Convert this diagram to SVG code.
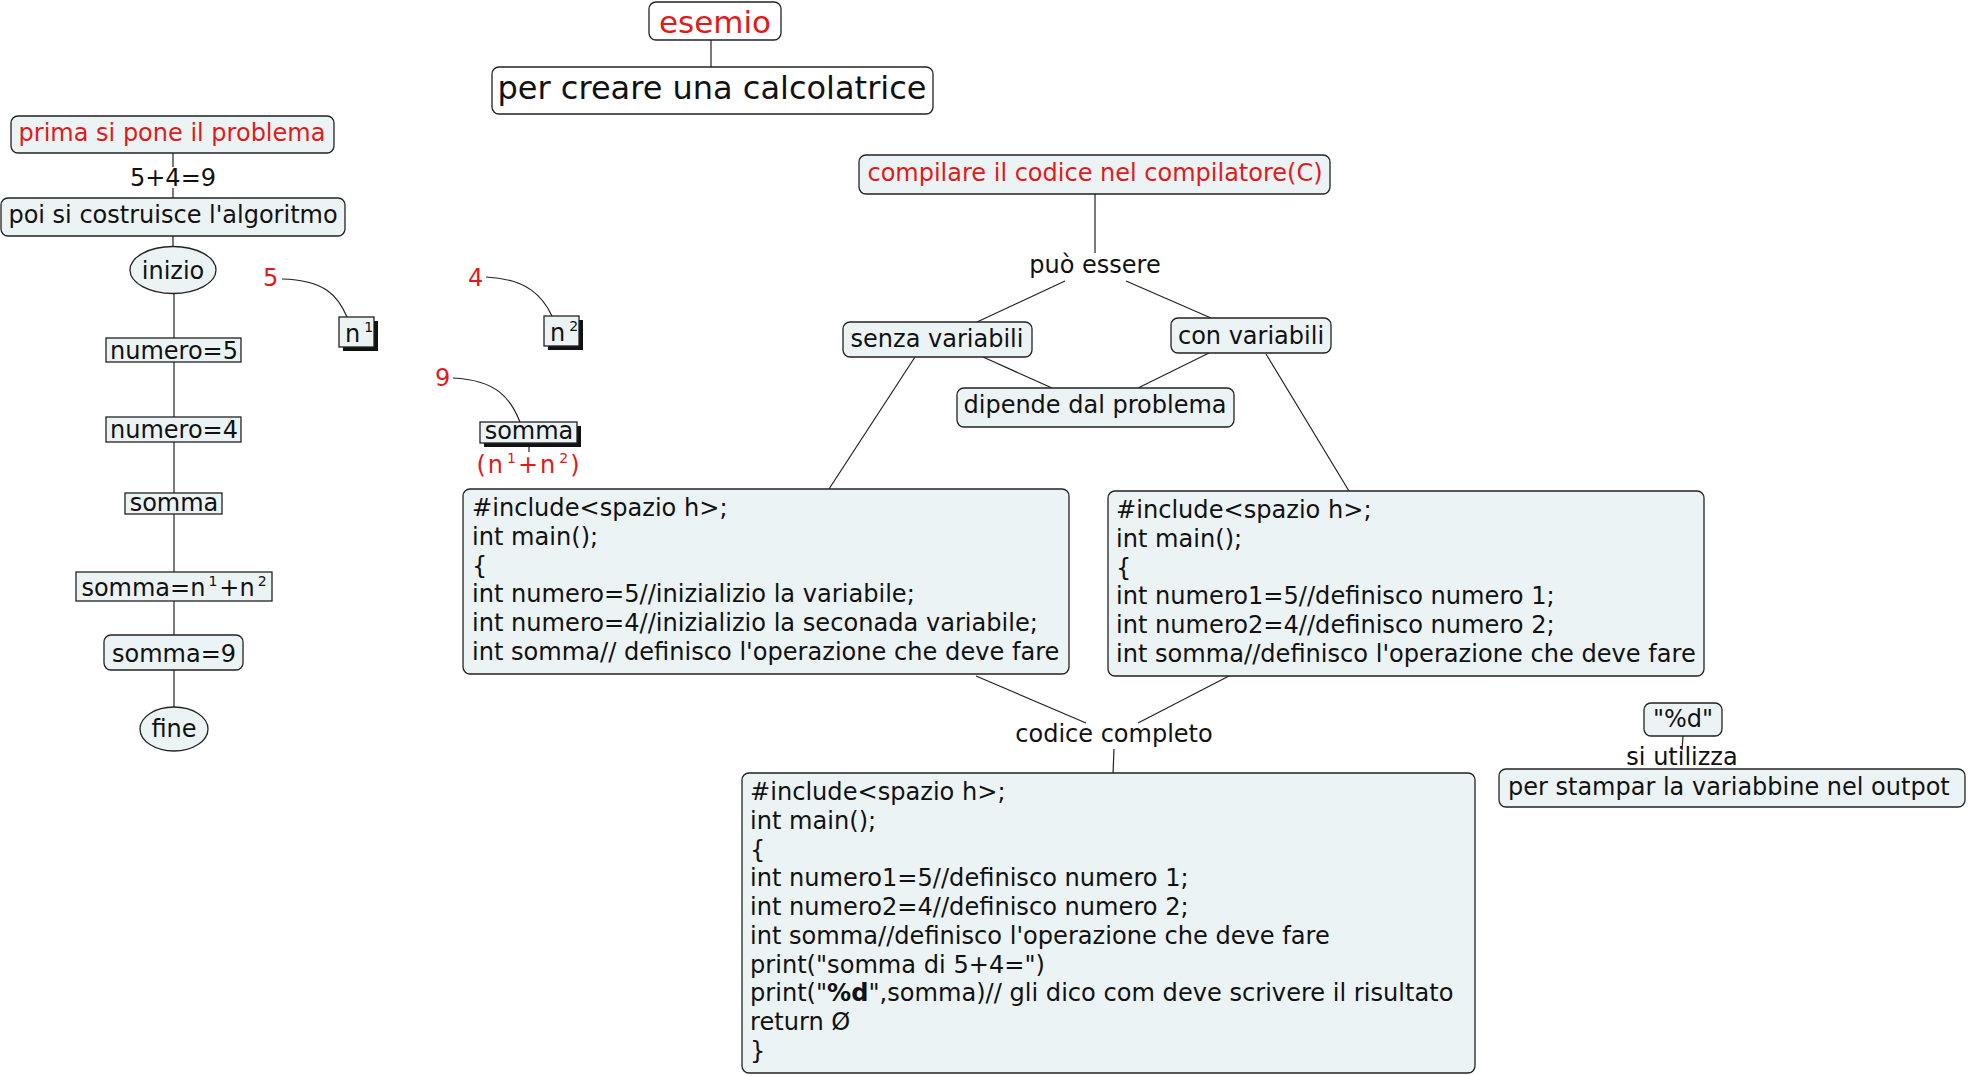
<svg xmlns="http://www.w3.org/2000/svg" width="1969" height="1076" viewBox="0 0 1969 1076">
<style>
text{font-family:"DejaVu Sans",Verdana,sans-serif;font-size:24px;fill:#111}
.c{text-anchor:middle}
.red{fill:#E11A1A}
.box{fill:#ECF3F5;stroke:#222;stroke-width:1.3}
.wbox{fill:#FFFFFF;stroke:#222;stroke-width:1.3}
.sh{fill:#111}
.ln{fill:none;stroke:#222;stroke-width:1.2}
.sup{font-size:14px}
.code text{font-size:24.1px}
</style>
<rect width="1969" height="1076" fill="#FFFFFF"/>
<g id="connectors">
<line class="ln" x1="711" y1="40" x2="711" y2="67"/>
<line class="ln" x1="173" y1="153" x2="173" y2="167"/>
<line class="ln" x1="173" y1="188" x2="173" y2="198"/>
<line class="ln" x1="173" y1="236" x2="173" y2="247"/>
<line class="ln" x1="174" y1="294" x2="174" y2="338"/>
<line class="ln" x1="174" y1="362" x2="174" y2="417"/>
<line class="ln" x1="174" y1="442" x2="174" y2="493"/>
<line class="ln" x1="174" y1="514" x2="174" y2="572"/>
<line class="ln" x1="174" y1="601" x2="174" y2="635"/>
<line class="ln" x1="174" y1="670" x2="174" y2="707"/>
<path class="ln" d="M282,279 C325,280 338,296 347,317"/>
<path class="ln" d="M486,277 C528,279 543,297 552,316"/>
<path class="ln" d="M453,378 C497,380 511,399 520,422"/>
<line class="ln" x1="529" y1="443" x2="529" y2="452"/>
<line class="ln" x1="1095" y1="194" x2="1095" y2="253"/>
<line class="ln" x1="1065" y1="281" x2="977" y2="322"/>
<line class="ln" x1="1126" y1="281" x2="1211" y2="318"/>
<line class="ln" x1="983" y1="357" x2="1052" y2="388"/>
<line class="ln" x1="1209" y1="353" x2="1138" y2="388"/>
<line class="ln" x1="915" y1="357" x2="829" y2="489"/>
<line class="ln" x1="1266" y1="354" x2="1349" y2="491"/>
<line class="ln" x1="976" y1="676" x2="1086" y2="723"/>
<line class="ln" x1="1229" y1="676" x2="1138" y2="723"/>
<line class="ln" x1="1114" y1="749" x2="1113" y2="774"/>
<line class="ln" x1="1683" y1="736" x2="1682" y2="750"/>
</g>
<g id="esemio"><rect class="wbox" x="649" y="2" width="132" height="38" rx="7"/><text class="c red" x="715" y="33" style="font-size:31px">esemio</text></g>
<g id="calcolatrice"><rect class="wbox" x="492" y="67" width="441" height="47" rx="7"/><text class="c" x="712" y="99" style="font-size:32px">per creare una calcolatrice</text></g>
<g id="prima"><rect class="box" x="11" y="116" width="323" height="37" rx="7"/><text class="c red" x="172" y="141">prima si pone il problema</text></g>
<g id="lbl-5p4"><text class="c" x="173" y="186">5+4=9</text></g>
<g id="algoritmo"><rect class="box" x="1" y="198" width="344" height="38" rx="7"/><text class="c" x="173" y="223">poi si costruisce l'algoritmo</text></g>
<g id="inizio"><ellipse class="box" cx="173" cy="270" rx="43" ry="23.5"/><text class="c" x="173" y="279">inizio</text></g>
<g id="numero5"><rect class="box" x="106" y="338" width="135" height="24"/><text class="c" x="174" y="359">numero=5</text></g>
<g id="numero4"><rect class="box" x="106" y="417" width="135" height="25"/><text class="c" x="174" y="438">numero=4</text></g>
<g id="somma-l"><rect class="box" x="125" y="493" width="97" height="21"/><text class="c" x="174" y="511">somma</text></g>
<g id="sommaeq"><rect class="box" x="76" y="572" width="196" height="29"/><text class="c" x="174" y="596">somma=n<tspan class="sup" dx="3" dy="-10">1</tspan><tspan dx="2" dy="10">+n</tspan><tspan class="sup" dx="3" dy="-10">2</tspan></text></g>
<g id="somma9"><rect class="box" x="104" y="635" width="139" height="35" rx="7"/><text class="c" x="174" y="662">somma=9</text></g>
<g id="fine"><ellipse class="box" cx="174" cy="729" rx="34" ry="22"/><text class="c" x="174" y="737">fine</text></g>
<g id="v5"><text class="red" x="263" y="286">5</text></g>
<g id="v4"><text class="red" x="468" y="286">4</text></g>
<g id="v9"><text class="red" x="435" y="386">9</text></g>
<g id="n1"><rect class="sh" x="343" y="321" width="35" height="30"/><rect class="box" x="339" y="317" width="35" height="30"/><text x="345" y="342">n<tspan class="sup" dx="4" dy="-10">1</tspan></text></g>
<g id="n2"><rect class="sh" x="548" y="320" width="35" height="30"/><rect class="box" x="544" y="316" width="35" height="30"/><text x="550" y="341">n<tspan class="sup" dx="4" dy="-10">2</tspan></text></g>
<g id="somma-r"><rect class="sh" x="484" y="426" width="97" height="21"/><rect class="box" x="480" y="422" width="97" height="21"/><text class="c" x="529" y="439">somma</text></g>
<g id="lbl-n1n2"><text class="c red" x="529" y="473" style="letter-spacing:2px">(n<tspan class="sup" dx="2" dy="-10">1</tspan><tspan dy="10">+n</tspan><tspan class="sup" dx="2" dy="-10">2</tspan><tspan dy="10">)</tspan></text></g>
<g id="compilare"><rect class="box" x="859" y="155" width="471" height="39" rx="7"/><text class="c red" x="1095" y="181">compilare il codice nel compilatore(C)</text></g>
<g id="lbl-puo"><text class="c" x="1095" y="273">può essere</text></g>
<g id="senza"><rect class="box" x="843" y="322" width="189" height="35" rx="7"/><text class="c" x="937" y="347">senza variabili</text></g>
<g id="con"><rect class="box" x="1171" y="318" width="160" height="35" rx="7"/><text class="c" x="1251" y="344">con variabili</text></g>
<g id="dipende"><rect class="box" x="957" y="388" width="277" height="39" rx="7"/><text class="c" x="1095" y="413">dipende dal problema</text></g>
<g id="code-senza" class="code"><rect class="box" x="463" y="489" width="606" height="185" rx="7"/>
<text x="472" y="516">#include&lt;spazio h&gt;;</text>
<text x="472" y="545">int main();</text>
<text x="472" y="574">{</text>
<text x="472" y="602">int numero=5//inizializio la variabile;</text>
<text x="472" y="631">int numero=4//inizializio la seconada variabile;</text>
<text x="472" y="660">int somma// definisco l'operazione che deve fare</text>
</g>
<g id="code-con" class="code"><rect class="box" x="1108" y="491" width="596" height="185" rx="7"/>
<text x="1116" y="518">#include&lt;spazio h&gt;;</text>
<text x="1116" y="547">int main();</text>
<text x="1116" y="576">{</text>
<text x="1116" y="604">int numero1=5//definisco numero 1;</text>
<text x="1116" y="633">int numero2=4//definisco numero 2;</text>
<text x="1116" y="662">int somma//definisco l'operazione che deve fare</text>
</g>
<g id="lbl-codice"><text class="c" x="1114" y="742">codice completo</text></g>
<g id="code-completo" class="code"><rect class="box" x="742" y="773" width="733" height="300" rx="7"/>
<text x="750" y="800">#include&lt;spazio h&gt;;</text>
<text x="750" y="829">int main();</text>
<text x="750" y="858">{</text>
<text x="750" y="886">int numero1=5//definisco numero 1;</text>
<text x="750" y="915">int numero2=4//definisco numero 2;</text>
<text x="750" y="944">int somma//definisco l'operazione che deve fare</text>
<text x="750" y="973">print("somma di 5+4=")</text>
<text x="750" y="1001">print("<tspan font-weight="bold">%d</tspan>",somma)// gli dico com deve scrivere il risultato</text>
<text x="750" y="1030">return Ø</text>
<text x="750" y="1059">}</text>
</g>
<g id="pd"><rect class="box" x="1644" y="703" width="78" height="33" rx="7"/><text class="c" x="1683" y="727">"%d"</text></g>
<g id="lbl-si"><text class="c" x="1682" y="765">si utilizza</text></g>
<g id="stampar"><rect class="box" x="1499" y="769" width="466" height="38" rx="7"/><text x="1508" y="795">per stampar la variabbine nel outpot</text></g>
</svg>
